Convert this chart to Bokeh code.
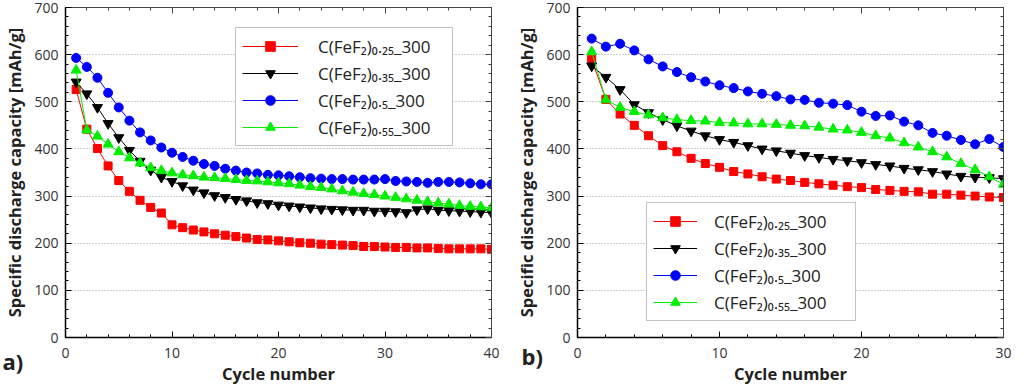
from bokeh.plotting import figure
from bokeh.models import (Range1d, LinearAxis, SingleIntervalTicker, Legend, LegendItem, Label)
from bokeh.layouts import row
from bokeh.embed import file_html
from bokeh.resources import INLINE

# ---------------- data ----------------
cycles_a = list(range(1, 41))
red_a = [526, 442, 401, 364, 333, 310, 291, 276, 264, 239, 233, 228, 224, 220, 217, 214, 211, 208, 207, 205,
         203, 201, 200, 198, 197, 196, 195, 193, 193, 192, 191, 191, 190, 190, 189, 188, 188, 188, 188, 187]
black_a = [542, 517, 488, 454, 424, 397, 374, 355, 340, 331, 322, 313, 307, 301, 297, 293, 290, 286, 284, 281,
           279, 277, 275, 273, 272, 271, 270, 270, 268, 268, 267, 265, 271, 273, 270, 269, 268, 267, 266, 265]
blue_a = [593, 574, 551, 519, 488, 460, 435, 418, 403, 392, 383, 375, 368, 364, 358, 354, 350, 348, 345, 344,
          342, 340, 338, 337, 336, 336, 335, 335, 335, 336, 332, 331, 330, 328, 330, 330, 329, 327, 325, 325]
green_a = [567, 440, 427, 410, 394, 381, 370, 360, 354, 349, 345, 343, 340, 339, 337, 335, 333, 332, 330, 328,
           326, 323, 320, 318, 315, 311, 308, 305, 303, 300, 297, 294, 291, 288, 285, 283, 280, 278, 277, 275]

cycles_b = list(range(1, 31))
red_b = [590, 505, 474, 450, 428, 407, 394, 380, 369, 361, 352, 347, 341, 336, 333, 329, 326, 323, 320, 318,
         314, 312, 310, 309, 304, 304, 302, 300, 298, 297]
black_b = [576, 552, 526, 494, 477, 462, 449, 438, 428, 420, 414, 407, 400, 396, 391, 386, 382, 378, 375, 371,
           367, 364, 359, 356, 352, 347, 342, 340, 339, 337]
blue_b = [634, 617, 623, 609, 590, 575, 563, 552, 543, 535, 529, 522, 517, 512, 505, 504, 498, 496, 493, 479,
          470, 471, 458, 450, 434, 428, 419, 410, 421, 404]
green_b = [606, 504, 488, 479, 472, 466, 462, 460, 459, 456, 455, 453, 453, 452, 450, 449, 446, 442, 440, 435,
           428, 423, 413, 404, 394, 383, 369, 356, 341, 325]

series_labels = ["C(FeF\u2082)\u2080.\u2082\u2085_300", "C(FeF\u2082)\u2080.\u2083\u2085_300",
                 "C(FeF\u2082)\u2080.\u2085_300", "C(FeF\u2082)\u2080.\u2085\u2085_300"]
series_colors = ["#ff0000", "#000000", "#0000ff", "#00ee00"]
series_markers = ["square", "inverted_triangle", "circle", "triangle"]
marker_sizes = [8, 10, 9, 10]

x_label = "Cycle number"
y_label = "Specific discharge capacity [mAh/g]"
panel_tags = ["a)", "b)"]

FONT = "Open Sans"
TAG_W = 21  # approximate rendered width of a tag, used to place it from its side panel


def make_panel(cycles, ys, xmax, border_left, legend_loc, legend_cfg, tag, tag_xy):
    p = figure(width=512, height=389, output_backend="svg", toolbar_location=None,
               x_range=Range1d(0, xmax), y_range=Range1d(0, 700),
               min_border_left=border_left, min_border_right=0,
               min_border_top=7, min_border_bottom=52)
    p.background_fill_color = "white"
    p.border_fill_color = "white"
    p.outline_line_color = "#555555"
    p.outline_line_width = 1

    p.xaxis.ticker = SingleIntervalTicker(interval=10, num_minor_ticks=5)
    p.yaxis.ticker = SingleIntervalTicker(interval=100, num_minor_ticks=5)
    for ax in (p.xaxis[0], p.yaxis[0]):
        ax.axis_line_color = "black"
        ax.axis_line_width = 1.5
        ax.major_tick_in = 6
        ax.major_tick_out = 0
        ax.minor_tick_in = 3
        ax.minor_tick_out = 0
        ax.major_tick_line_color = "black"
        ax.minor_tick_line_color = "black"
        ax.major_label_text_font = FONT
        ax.major_label_text_font_size = "14px"
        ax.major_label_text_color = "#333333"
        ax.axis_label_text_font = FONT
        ax.axis_label_text_font_style = "bold"
        ax.axis_label_text_font_size = "16.5px"
        ax.axis_label_text_color = "#222222"
    p.xaxis.major_label_standoff = 10
    p.yaxis.major_label_standoff = 7
    p.xaxis.axis_label = x_label
    p.yaxis.axis_label = y_label
    p.xaxis.axis_label_standoff = 1
    p.yaxis.axis_label_standoff = 5

    # mirrored axes on top and right (ticks only)
    top = LinearAxis(ticker=SingleIntervalTicker(interval=10, num_minor_ticks=5))
    right = LinearAxis(ticker=SingleIntervalTicker(interval=100, num_minor_ticks=5))
    for ax in (top, right):
        ax.axis_line_color = "#444444"
        ax.axis_line_width = 1
        ax.major_tick_in = 6
        ax.major_tick_out = 0
        ax.minor_tick_in = 3
        ax.minor_tick_out = 0
        ax.major_tick_line_color = "#444444"
        ax.minor_tick_line_color = "#444444"
        ax.major_label_text_font_size = "0px"
        ax.major_label_text_color = None
        ax.major_label_standoff = 0
    p.add_layout(top, "above")
    p.add_layout(right, "right")

    p.xgrid.visible = False
    p.ygrid.grid_line_color = "#9a9a9a"
    p.ygrid.grid_line_dash = "1 2"
    p.ygrid.grid_line_width = 1

    items = []
    for y, lab, col, mk, ms in zip(ys, series_labels, series_colors, series_markers, marker_sizes):
        lr = p.line(cycles, y, line_color=col, line_width=1)
        sr = p.scatter(cycles, y, marker=mk, size=ms, fill_color=col, line_color=col)
        items.append(LegendItem(label=lab, renderers=[lr, sr]))

    glyph_w, standoff, label_w = legend_cfg
    leg = Legend(items=items, location=legend_loc)
    leg.border_line_color = "#888888"
    leg.border_line_width = 1
    leg.background_fill_color = "white"
    leg.background_fill_alpha = 1
    leg.label_text_font = FONT
    leg.label_text_font_size = "17px"
    leg.label_text_color = "#222222"
    leg.glyph_width = glyph_w
    leg.glyph_height = 24
    leg.label_height = 24
    leg.label_width = label_w
    leg.label_standoff = standoff
    leg.spacing = 3
    leg.padding = 6
    leg.margin = 0
    p.add_layout(leg, "center")

    # panel tag, held in the right side panel (side-panel annotations are not clipped to the frame)
    tl = Label(x=tag_xy[0], y=tag_xy[1], x_units="screen", y_units="screen", text=tag,
               text_font=FONT, text_font_style="bold", text_font_size="22px", text_color="#222222",
               text_baseline="alphabetic", text_align="left")
    p.add_layout(tl, "right")
    return p


ys_a = [red_a, black_a, blue_a, green_a]
ys_b = [red_b, black_b, blue_b, green_b]

pa = make_panel(cycles_a, ys_a, 40, 63, (170, 191), (56, 20, 128), panel_tags[0], (TAG_W - 510, -23))
pb = make_panel(cycles_b, ys_b, 30, 64, (69, 16), (44, 17, 135), panel_tags[1], (TAG_W - 503, -18))

layout = row(pa, pb)
open("out.html", "w").write(file_html(layout, INLINE))
